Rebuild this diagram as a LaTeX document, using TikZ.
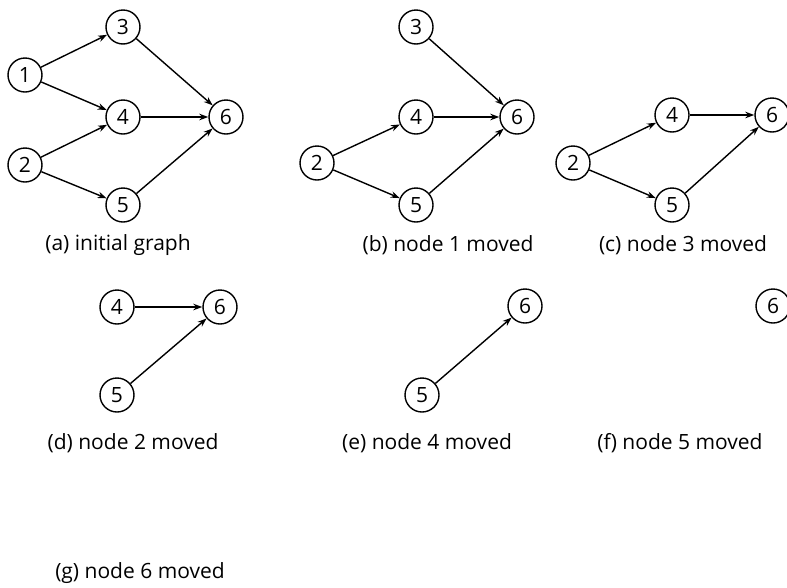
\documentclass[tikz,border=0pt]{standalone}
\usepackage{fontspec}
\setmainfont{Open Sans}
\usetikzlibrary{arrows.meta}
\begin{document}
\begin{tikzpicture}[x=1pt, y=-1pt,
		vertex/.style={shape=circle, draw, line width=1.4pt, minimum size=34pt, inner sep=0pt, font=\fontsize{21}{21}\selectfont},
		caption/.style={font=\fontsize{21}{21}\selectfont},
		link/.style={-{Stealth[length=9pt,width=6.5pt]}, line width=1.4pt}]
		\useasboundingbox (0,0) rectangle (787,587);
		
		% (a)
		\node[vertex] (a1) at (25,75) {1};
		\node[vertex] (a2) at (25,165) {2};
		\node[vertex] (a3) at (123,27) {3};
		\node[vertex] (a4) at (123,117) {4};
		\node[vertex] (a5) at (123,205) {5};
		\node[vertex] (a6) at (226,117) {6};
		\node[caption] (capa) at (118,245) {(a) initial graph};
		
		% (b)
		\node[vertex] (b2) at (317,163) {2};
		\node[vertex] (b3) at (416,27) {3};
		\node[vertex] (b4) at (416,117) {4};
		\node[vertex] (b5) at (416,205) {5};
		\node[vertex] (b6) at (517,117) {6};
		\node[caption] (capb) at (448,245) {(b) node 1 moved};
		
		% (c)
		\node[vertex] (c2) at (573,163) {2};
		\node[vertex] (c4) at (672,115) {4};
		\node[vertex] (c5) at (672,205) {5};
		\node[vertex] (c6) at (772,115) {6};
		\node[caption] (capc) at (683,245) {(c) node 3 moved};
		
		% (d)
		\node[vertex] (d4) at (117,307) {4};
		\node[vertex] (d5) at (117,395) {5};
		\node[vertex] (d6) at (220,307) {6};
		\node[caption] (capd) at (133,443) {(d) node 2 moved};
		
		% (e)
		\node[vertex] (e5) at (422,395) {5};
		\node[vertex] (e6) at (525,306) {6};
		\node[caption] (cape) at (427,443) {(e) node 4 moved};
		
		% (f)
		\node[vertex] (f6) at (773,306) {6};
		\node[caption] (capf) at (680,443) {(f) node 5 moved};
		
		% (g)
		\node[caption] (capg) at (140,573) {(g) node 6 moved};
		
		\foreach \s/\t in {a1/a3, a1/a4, a2/a4, a2/a5, a3/a6, a4/a6, a5/a6,
			b2/b4, b2/b5, b3/b6, b4/b6, b5/b6,
			c2/c4, c2/c5, c4/c6, c5/c6,
			d4/d6, d5/d6,
			e5/e6}
		\draw[link] (\s) -- (\t);
\end{tikzpicture}
\end{document}
